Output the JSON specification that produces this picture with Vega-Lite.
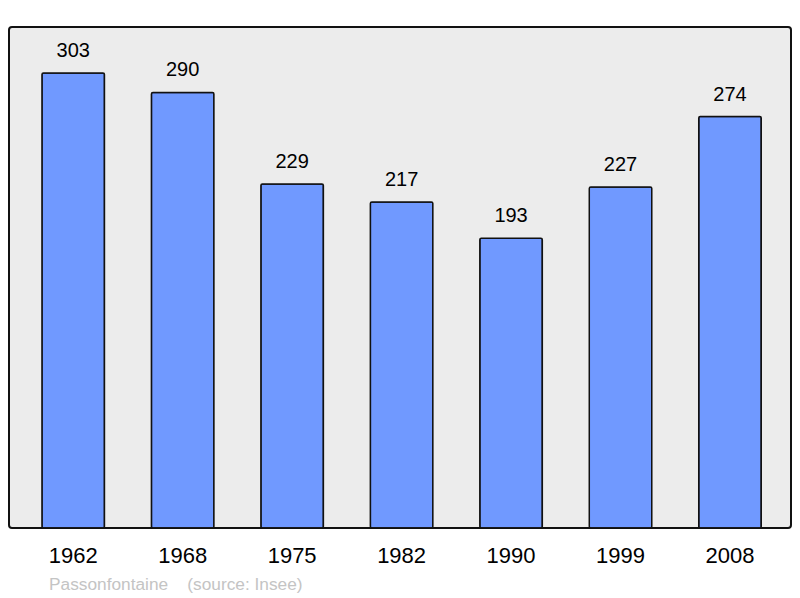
{
  "$schema": "https://vega.github.io/schema/vega-lite/v6.json",
  "width": 782,
  "height": 501,
  "autosize": {"type": "none"},
  "padding": {"left": 9, "top": 27, "right": 9, "bottom": 70},
  "background": "white",
  "config": {
    "view": {"fill": "#ececec", "stroke": "#111111", "strokeWidth": 2, "cornerRadius": 3},
    "font": "Liberation Sans"
  },
  "title": {
    "text": "Passonfontaine\u00a0\u00a0\u00a0\u00a0(source: Insee)",
    "orient": "bottom",
    "anchor": "start",
    "dx": 40,
    "offset": 10,
    "fontSize": 17.3,
    "fontWeight": "normal",
    "color": "#c4c4c4",
    "font": "Liberation Sans"
  },
  "data": {
    "values": [
      {"year": "1962", "pop": 303},
      {"year": "1968", "pop": 290},
      {"year": "1975", "pop": 229},
      {"year": "1982", "pop": 217},
      {"year": "1990", "pop": 193},
      {"year": "1999", "pop": 227},
      {"year": "2008", "pop": 274}
    ]
  },
  "encoding": {
    "x": {
      "field": "year",
      "type": "nominal",
      "sort": null,
      "scale": {"paddingInner": 0.429, "paddingOuter": 0.2864, "align": 0.5255},
      "axis": {
        "title": null,
        "domain": false,
        "ticks": false,
        "labelAngle": 0,
        "labelFontSize": 22,
        "labelColor": "#000000",
        "labelPadding": 17,
        "labelFont": "Liberation Sans"
      }
    },
    "y": {
      "field": "pop",
      "type": "quantitative",
      "scale": {"domain": [0, 333.6], "nice": false, "zero": true},
      "axis": null
    }
  },
  "layer": [
    {
      "mark": {"type": "bar", "fill": "#7099ff", "stroke": "#111111", "strokeWidth": 1.5, "cornerRadius": 1.5}
    },
    {
      "mark": {"type": "text", "dy": -22, "fontSize": 20, "color": "#000000", "baseline": "middle", "font": "Liberation Sans"},
      "encoding": {"text": {"field": "pop", "type": "quantitative"}}
    }
  ]
}
